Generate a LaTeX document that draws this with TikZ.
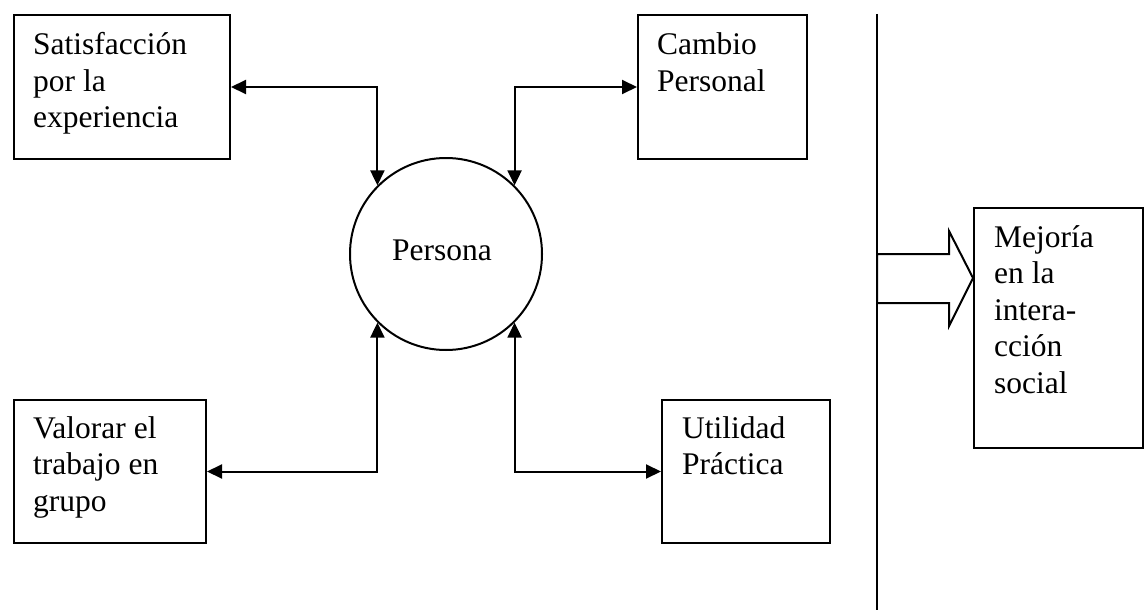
\documentclass[tikz,border=0pt]{standalone}
\usepackage{fontspec}
\setmainfont{Liberation Serif}
\newfontfamily\tnr{Liberation Serif}
\usetikzlibrary{arrows.meta}
\newcommand{\mlines}[1]{\parbox[t]{300pt}{\raggedright #1}}
\begin{document}
\begin{tikzpicture}[x=1pt,y=-1pt,
  box/.style={draw, line width=2pt, inner sep=0pt, anchor=north west},
  txt/.style={anchor=base west, inner sep=0pt, font=\tnr\fontsize{31.5}{36.5}\selectfont},
  conn/.style={line width=2pt, {Triangle[length=15pt,width=14pt]}-{Triangle[length=15pt,width=14pt]}}]
\useasboundingbox (0,0) rectangle (1146,610);
% boxes
\node[box, minimum width=216pt, minimum height=144pt] (s) at (13,14) {};
\node[box, minimum width=169pt, minimum height=144pt] (c) at (637,14) {};
\node[box, minimum width=192pt, minimum height=143pt] (v) at (13,399) {};
\node[box, minimum width=168pt, minimum height=143pt] (u) at (661,399) {};
\node[box, minimum width=169pt, minimum height=240pt] (m) at (973,207) {};
% circle
\node[draw, circle, line width=2pt, minimum size=192pt, inner sep=0pt] (p) at (446,254) {};
% texts
\node[txt] (ts) at (33,55) {\mlines{Satisfacción\\por la\\experiencia}};
\node[txt] (tc) at (657,55) {\mlines{Cambio\\Personal}};
\node[txt] (tv) at (33,438) {\mlines{Valorar el\\trabajo en\\grupo}};
\node[txt] (tu) at (682,438) {\mlines{Utilidad\\Práctica}};
\node[txt] (tm) at (994,247) {\mlines{Mejoría\\en la\\intera-\\cción\\social}};
\node[txt, anchor=base] (tp) at (442,260) {Persona};
% connectors
\draw[conn] (s.east) -| (p.135);
\draw[conn] (c.west) -| (p.45);
\draw[conn] (v.east) -| (p.-135);
\draw[conn] (u.west) -| (p.-45);
% vertical divider
\coordinate (lt) at (877,14);
\coordinate (lb) at (877,610);
\draw[line width=2pt] (lt) -- (lb);
% block arrow
\draw[line width=2pt, line join=miter] (877,254) -- (949,254) -- (949,231) -- (m.west |- 0,278) -- (949,326) -- (949,303) -- (877,303) -- cycle;
\end{tikzpicture}
\end{document}
